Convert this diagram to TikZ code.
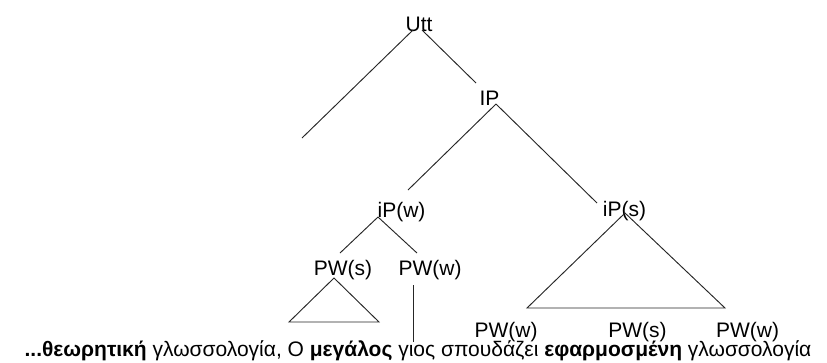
\documentclass[tikz,border=0pt]{standalone}
\usepackage{fontspec}
\setmainfont{Liberation Sans}
\begin{document}
\begin{tikzpicture}[x=0.75pt,y=-0.75pt,
  lab/.style={anchor=base,inner sep=0pt,font=\fontsize{15.75}{18}\selectfont},
  branch/.style={draw=black!85,line width=0.7pt}]
\useasboundingbox (0,0) rectangle (827,362);
% labels
\node[lab] (utt) at (419,31) {Utt};
\node[lab] (ip) at (489.5,105) {IP};
\node[lab] (ipw) at (401.5,217) {iP(w)};
\node[lab] (ips) at (624.5,216) {iP(s)};
\node[lab] (pws1) at (343,275) {PW(s)};
\node[lab] (pww1) at (430,275) {PW(w)};
\node[lab] (pww2) at (506,337) {PW(w)};
\node[lab] (pws2) at (637.5,337) {PW(s)};
\node[lab] (pww3) at (747.5,337) {PW(w)};
\node[lab] (sent) at (418,356) {\textbf{...θεωρητική} γλωσσολογία, Ο \textbf{μεγάλος} γιος σπουδάζει \textbf{εφαρμοσμένη} γλωσσολογία};
% connector ends
\coordinate (uttL) at (413,30);
\coordinate (uttR) at (422,30);
\coordinate (leftEnd) at (302,138);
\coordinate (ipTop) at (476,83);
\coordinate (ipBot) at (496,104);
\coordinate (ipwTop) at (408,190);
\coordinate (ipsTop) at (597,203);
\coordinate (ipwBot) at (378,217);
\coordinate (pws1Top) at (340,253);
\coordinate (pww1Top) at (417,253);
\coordinate (pww1Bot) at (413,285);
\coordinate (sentTop) at (413,342);
\coordinate (triA) at (334,278);
\coordinate (triL) at (289,322);
\coordinate (triR) at (379,322);
\coordinate (bigA) at (625,213);
\coordinate (bigL) at (527,308);
\coordinate (bigR) at (725,308);
% branches
\draw[branch] (uttL) -- (leftEnd);
\draw[branch] (uttR) -- (ipTop);
\draw[branch] (ipBot) -- (ipwTop);
\draw[branch] (ipBot) -- (ipsTop);
\draw[branch] (ipwBot) -- (pws1Top);
\draw[branch] (ipwBot) -- (pww1Top);
\draw[branch] (pww1Bot) -- (sentTop);
\draw[branch] (triA) -- (triL) -- (triR) -- cycle;
\draw[branch] (bigA) -- (bigL) -- (bigR) -- cycle;
\end{tikzpicture}
\end{document}
